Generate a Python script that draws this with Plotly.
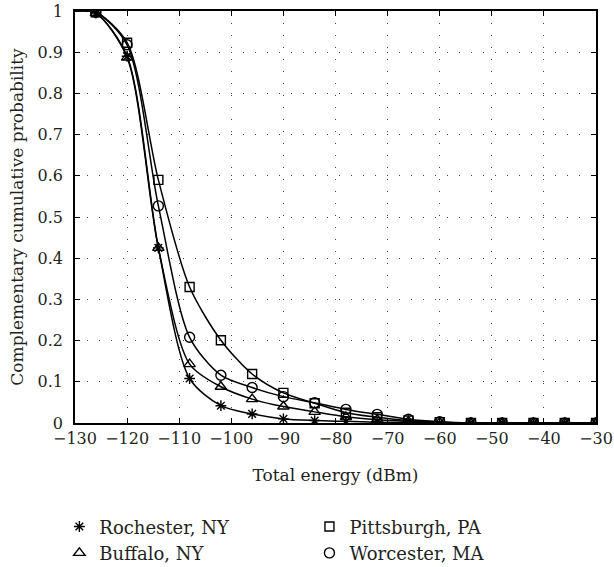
import plotly.graph_objects as go

# Sample points (dBm) where markers are drawn
energy = [-126, -120, -114, -108, -102, -96, -90, -84, -78, -72, -66, -60, -54, -48, -42, -36, -30]
# Curves start flat at the left edge of the axis
energy_start = -130
prob_start = 1.0

rochester = [0.995, 0.89, 0.425, 0.108, 0.042, 0.022, 0.010, 0.006, 0.004, 0.002, 0.001, 0.0, 0.0, 0.0, 0.0, 0.0, 0.0]
buffalo = [0.995, 0.887, 0.425, 0.143, 0.088, 0.058, 0.040, 0.027, 0.015, 0.008, 0.004, 0.001, 0.0, 0.0, 0.0, 0.0, 0.0]
pittsburgh = [0.997, 0.923, 0.59, 0.33, 0.201, 0.119, 0.073, 0.048, 0.025, 0.014, 0.006, 0.002, 0.0, 0.0, 0.0, 0.0, 0.0]
worcester = [0.997, 0.918, 0.527, 0.208, 0.116, 0.086, 0.064, 0.049, 0.033, 0.021, 0.009, 0.003, 0.0, 0.0, 0.0, 0.0, 0.0]

series = [
    ("Rochester, NY", rochester, "asterisk-open", 9, "legend"),
    ("Buffalo, NY", buffalo, "triangle-up-open", 10, "legend"),
    ("Pittsburgh, PA", pittsburgh, "square-open", 9, "legend2"),
    ("Worcester, MA", worcester, "circle-open", 10, "legend2"),
]

x_ticks = list(range(-130, -29, 10))
y_ticks = [0, 0.1, 0.2, 0.3, 0.4, 0.5, 0.6, 0.7, 0.8, 0.9, 1]
y_tick_labels = ["0", "0.1", "0.2", "0.3", "0.4", "0.5", "0.6", "0.7", "0.8", "0.9", "1"]

FONT = "DejaVu Serif"
TXT = "#231f20"

fig = go.Figure()
for name, vals, sym, size, leg in series:
    fig.add_trace(go.Scatter(
        x=[energy_start] + energy, y=[prob_start] + vals,
        mode="lines", line=dict(color="black", width=1.5, shape="spline", smoothing=0.8),
        showlegend=False, hoverinfo="skip",
    ))
for name, vals, sym, size, leg in series:
    fig.add_trace(go.Scatter(
        x=energy, y=vals, mode="markers", name=name, legend=leg,
        marker=dict(symbol=sym, size=size, color="black", line=dict(color="black", width=1.4)),
    ))

axis_common = dict(
    showline=True, linecolor="black", linewidth=1.5, mirror="ticks",
    ticks="inside", ticklen=5, tickwidth=1, tickcolor="black",
    showgrid=True, gridcolor="#444", gridwidth=1, griddash="1px,11px",
    zeroline=False, tickfont=dict(family=FONT, size=16, color=TXT),
    ticklabeloverflow="allow",
)

fig.update_xaxes(
    range=[-130, -30], tickvals=x_ticks,
    title=dict(text="Total energy (dBm)", font=dict(family=FONT, size=17, color=TXT), standoff=22),
    **axis_common,
)
fig.update_yaxes(
    range=[0, 1], tickvals=y_ticks, ticktext=y_tick_labels, ticklabelstandoff=7,
    title=dict(text="Complementary cumulative probability", font=dict(family=FONT, size=17, color=TXT), standoff=10),
    **axis_common,
)

legend_common = dict(
    orientation="v", yanchor="top", xanchor="left", y=-0.207,
    bgcolor="rgba(0,0,0,0)", font=dict(family=FONT, size=18, color=TXT),
    itemwidth=30, tracegroupgap=0,
)

fig.update_layout(
    width=614, height=567,
    margin=dict(l=75, r=18, t=11, b=144, autoexpand=False),
    plot_bgcolor="white", paper_bgcolor="white",
    font=dict(family=FONT, color=TXT),
    legend=dict(x=-0.03, **legend_common),
    legend2=dict(x=0.45, **legend_common),
)

fig.write_html("out.html", config={"displayModeBar": False},
               post_script="document.body.style.margin='0';")
